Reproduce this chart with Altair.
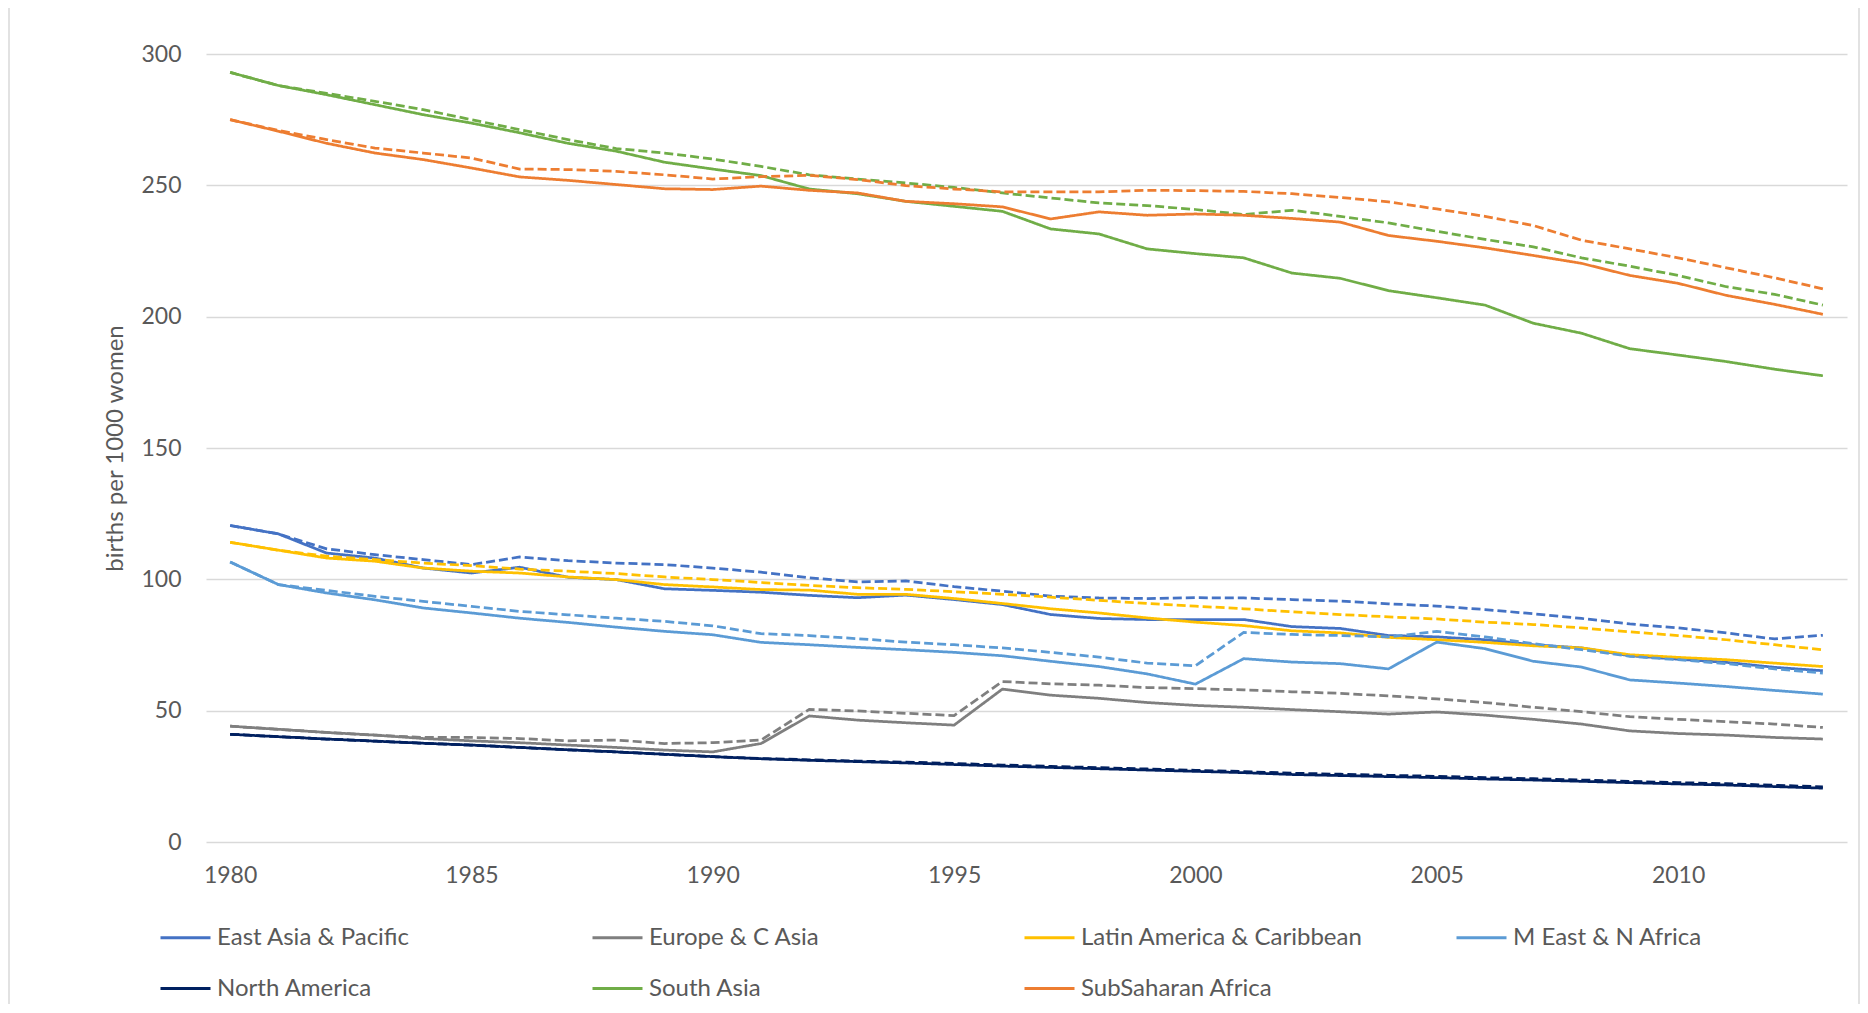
import altair as alt
import pandas as pd

years = list(range(1980, 2014))

regions = ["East Asia & Pacific", "Europe & C Asia", "Latin America & Caribbean",
           "M East & N Africa", "North America", "South Asia", "SubSaharan Africa"]
colors = ["#4472C4", "#7F7F7F", "#FFC000", "#5B9BD5", "#002060", "#70AD47", "#ED7D31"]

east_asia_solid = [120.5, 117.3, 110.0, 108.1, 104.3, 102.4, 104.6, 100.8, 99.9, 96.4, 95.8, 95.1, 93.9, 93.0, 94.0, 92.3, 90.4, 86.6, 85.1, 84.7, 84.7, 84.7, 82.0, 81.3, 78.6, 78.1, 77.0, 75.1, 73.9, 70.9, 69.6, 68.4, 66.5, 65.2]
east_asia_dash = [120.5, 117.3, 111.6, 109.4, 107.5, 105.6, 108.5, 107.1, 106.2, 105.6, 104.3, 102.7, 100.6, 99.0, 99.4, 97.2, 95.5, 93.6, 92.9, 92.7, 93.0, 92.9, 92.3, 91.7, 90.7, 89.8, 88.5, 86.9, 85.1, 83.0, 81.5, 79.6, 77.3, 78.7]
europe_solid = [44.1, 42.9, 41.7, 40.7, 39.4, 38.5, 37.8, 36.9, 36.0, 35.0, 34.3, 37.5, 48.0, 46.4, 45.4, 44.5, 58.2, 55.9, 54.7, 53.1, 52.0, 51.3, 50.4, 49.6, 48.7, 49.5, 48.3, 46.7, 44.9, 42.3, 41.3, 40.7, 39.8, 39.2]
europe_dash = [44.1, 42.9, 41.7, 40.7, 39.8, 39.8, 39.4, 38.5, 38.8, 37.5, 37.8, 38.8, 50.5, 49.9, 49.0, 48.1, 61.1, 60.2, 59.7, 58.8, 58.4, 57.9, 57.2, 56.6, 55.6, 54.5, 53.1, 51.3, 49.6, 47.7, 46.7, 45.8, 44.9, 43.6]
latin_solid = [114.1, 111.1, 108.1, 106.9, 104.3, 103.1, 102.4, 100.9, 99.9, 98.0, 97.1, 96.1, 95.9, 94.3, 94.3, 92.7, 90.8, 88.8, 87.2, 85.3, 83.7, 82.4, 80.4, 79.6, 77.9, 77.0, 76.0, 74.7, 73.9, 71.3, 70.3, 69.4, 68.1, 66.8]
latin_dash = [114.1, 111.1, 108.8, 107.5, 106.2, 105.2, 103.9, 103.1, 102.2, 100.9, 99.9, 98.8, 97.7, 96.8, 96.2, 95.3, 94.3, 93.2, 92.0, 90.8, 89.8, 88.8, 87.6, 86.6, 85.7, 84.9, 83.7, 82.8, 81.5, 80.0, 78.6, 77.0, 75.1, 73.2]
meast_solid = [106.6, 98.0, 94.8, 92.2, 89.1, 87.2, 85.2, 83.6, 81.8, 80.2, 78.9, 76.0, 75.1, 74.1, 73.2, 72.2, 70.9, 68.8, 66.8, 64.0, 60.1, 69.8, 68.5, 67.9, 65.9, 76.1, 73.6, 68.8, 66.6, 61.7, 60.5, 59.2, 57.7, 56.3]
meast_dash = [106.6, 98.0, 95.8, 93.5, 91.6, 89.7, 87.8, 86.5, 85.2, 84.0, 82.3, 79.3, 78.6, 77.4, 76.1, 75.1, 73.9, 72.2, 70.4, 68.1, 67.1, 79.8, 79.0, 78.6, 78.1, 80.2, 78.1, 75.5, 73.2, 70.7, 69.4, 67.9, 65.9, 64.3]
namerica_solid = [41.0, 40.1, 39.2, 38.4, 37.6, 36.9, 36.0, 35.1, 34.3, 33.4, 32.5, 31.7, 31.1, 30.6, 30.1, 29.5, 28.9, 28.4, 27.9, 27.4, 26.9, 26.4, 25.7, 25.3, 24.9, 24.5, 24.0, 23.6, 23.1, 22.6, 22.1, 21.7, 21.1, 20.5]
namerica_dash = [41.0, 40.1, 39.2, 38.4, 37.6, 36.9, 36.0, 35.1, 34.3, 33.4, 32.5, 31.8, 31.3, 30.8, 30.4, 29.9, 29.3, 28.8, 28.3, 27.8, 27.3, 26.8, 26.2, 25.8, 25.4, 25.0, 24.5, 24.1, 23.6, 23.1, 22.6, 22.2, 21.6, 21.0]
sasia_solid = [293.0, 288.0, 284.5, 280.7, 276.9, 273.7, 270.0, 266.0, 263.0, 258.8, 256.2, 253.7, 248.6, 246.8, 243.9, 242.0, 240.1, 233.4, 231.5, 225.8, 224.0, 222.4, 216.6, 214.6, 209.9, 207.2, 204.4, 197.5, 193.7, 187.8, 185.4, 182.9, 180.0, 177.5]
sasia_dash = [293.0, 288.0, 285.0, 282.0, 278.8, 275.0, 271.2, 267.4, 264.0, 262.3, 260.0, 257.2, 254.0, 252.4, 250.9, 249.2, 247.1, 245.2, 243.3, 242.3, 240.8, 238.9, 240.5, 238.2, 235.7, 232.5, 229.4, 226.6, 222.4, 219.2, 215.7, 211.4, 208.5, 204.4]
ssafrica_solid = [275.0, 270.6, 266.0, 262.3, 259.8, 256.6, 253.2, 251.9, 250.3, 248.7, 248.4, 249.7, 248.1, 247.1, 243.9, 243.0, 241.8, 237.2, 239.9, 238.6, 239.1, 238.6, 237.4, 236.0, 230.9, 228.7, 226.2, 223.3, 220.3, 215.7, 212.7, 208.1, 204.7, 200.9]
ssafrica_dash = [275.0, 270.9, 267.4, 264.2, 262.3, 260.4, 256.2, 256.0, 255.3, 254.0, 252.4, 253.3, 253.8, 252.2, 249.9, 248.6, 247.5, 247.5, 247.5, 248.1, 248.0, 247.7, 246.8, 245.4, 243.7, 241.0, 238.2, 234.7, 229.1, 225.8, 222.4, 218.6, 214.8, 210.6]

series = [
    (regions[0], east_asia_solid, east_asia_dash),
    (regions[1], europe_solid, europe_dash),
    (regions[2], latin_solid, latin_dash),
    (regions[3], meast_solid, meast_dash),
    (regions[4], namerica_solid, namerica_dash),
    (regions[5], sasia_solid, sasia_dash),
    (regions[6], ssafrica_solid, ssafrica_dash),
]

rows = []
for name, solid, dash in series:
    for y, v in zip(years, solid):
        rows.append({"year": y, "value": v, "region": name, "variant": "solid"})
    for y, v in zip(years, dash):
        rows.append({"year": y, "value": v, "region": name, "variant": "dashed"})
df = pd.DataFrame(rows)

FONT = "Lato"
TXT = "#595959"
GRID = "#D9D9D9"

lines = alt.Chart(df).mark_line(strokeWidth=2.75, clip=False).encode(
    x=alt.X("year:Q",
            scale=alt.Scale(domain=[1979.5, 2013.5], nice=False, zero=False),
            axis=alt.Axis(values=[1980, 1985, 1990, 1995, 2000, 2005, 2010], format="d",
                          grid=False, domain=False, ticks=False, labelPadding=22,
                          labelFont=FONT, labelFontSize=23, labelColor=TXT, title=None)),
    y=alt.Y("value:Q",
            scale=alt.Scale(domain=[0, 300], nice=False),
            axis=alt.Axis(values=[0, 50, 100, 150, 200, 250, 300], grid=True, gridColor=GRID,
                          gridWidth=1.3, domain=False, ticks=False, labelPadding=25,
                          labelFont=FONT, labelFontSize=23, labelColor=TXT,
                          title="births per 1000 women", titleFont=FONT, titleFontSize=24,
                          titleFontWeight="normal", titleColor=TXT, titleX=-91, titleY=394,
                          titleAngle=270, titleAlign="center", titleBaseline="middle")),
    color=alt.Color("region:N",
                    scale=alt.Scale(domain=regions, range=colors),
                    sort=regions,
                    legend=alt.Legend(title=None, orient="none", legendX=-47, legendY=857,
                                      direction="horizontal", columns=4, gridAlign="all",
                                      symbolType="stroke", symbolStrokeWidth=3, symbolSize=2500,
                                      labelFont=FONT, labelFontSize=24, labelColor=TXT,
                                      labelOffset=5, labelLimit=500, columnPadding=87,
                                      rowPadding=12, padding=0)),
    strokeDash=alt.StrokeDash("variant:N",
                              scale=alt.Scale(domain=["solid", "dashed"], range=[[1, 0], [9, 4]]),
                              legend=None),
    detail="variant:N",
)

border = alt.Chart(pd.DataFrame({"a": [0]})).mark_rect(
    fill=None, stroke=GRID, strokeWidth=1.5, clip=False
).encode(
    x=alt.value(-197), x2=alt.value(1653), y=alt.value(-47), y2=alt.value(1000)
)

chart = alt.layer(border, lines).properties(
    width=1641, height=788,
    autosize=alt.AutoSizeParams(type="none"),
    padding={"left": 198, "top": 46, "right": 13, "bottom": 162},
).configure_view(stroke=None)

chart.save("out.html", embed_options={"renderer": "svg", "actions": False})
